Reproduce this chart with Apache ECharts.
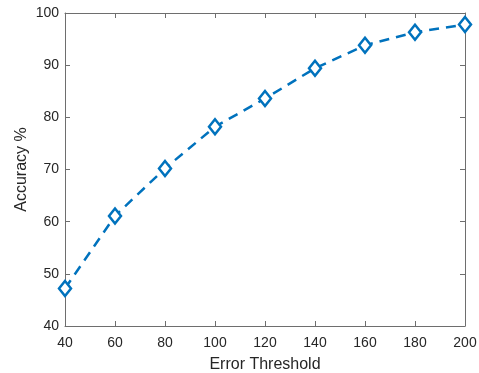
<!DOCTYPE html>
<html>
<head>
<meta charset="utf-8">
<script src="https://cdn.jsdelivr.net/npm/echarts@6/dist/echarts.min.js"></script>
<style>
  html, body { margin: 0; padding: 0; background: #fff; }
  #chart { width: 479px; height: 373px; }
</style>
</head>
<body>
<div id="chart"></div>
<script>
// values
const thresholds = [40, 60, 80, 100, 120, 140, 160, 180, 200];
const accuracy = [47.2, 61.1, 70.2, 78.2, 83.6, 89.4, 93.8, 96.3, 97.8];

const axisGrey = '#6e6e6e';
const textColor = '#262626';
const lineBlue = '#0072BD';

var chart = echarts.init(document.getElementById('chart'));

var points = thresholds.map(function (t, i) { return [t, accuracy[i]]; });

var baseAxis = {
    axisLine: { show: true, lineStyle: { color: axisGrey, width: 1 } },
    axisTick: { show: true, inside: true, length: 5, lineStyle: { color: axisGrey } },
    splitLine: { show: false },
};

var option = {
    animation: false,
    grid: { left: 65, right: 14, top: 13, bottom: 47, containLabel: false, outerBoundsMode: 'none' },
    xAxis: [
        Object.assign({}, baseAxis, {
            type: 'value', min: 40, max: 200, interval: 20,
            name: 'Error Threshold', nameLocation: 'middle', nameGap: 31, nameMoveOverlap: false,
            nameTextStyle: { color: textColor, fontSize: 16, fontFamily: 'Liberation Sans' },
            axisLabel: { color: textColor, fontSize: 14, fontFamily: 'Liberation Sans', margin: 10 },
        }),
        Object.assign({}, baseAxis, {
            type: 'value', min: 40, max: 200, interval: 20, position: 'top',
            axisLabel: { show: false },
        }),
    ],
    yAxis: [
        Object.assign({}, baseAxis, {
            type: 'value', min: 40, max: 100, interval: 10,
            name: 'Accuracy %', nameLocation: 'middle', nameGap: 35, nameMoveOverlap: false,
            nameTextStyle: { color: textColor, fontSize: 16, fontFamily: 'Liberation Sans' },
            axisLabel: { color: textColor, fontSize: 14, fontFamily: 'Liberation Sans', margin: 6 },
        }),
        Object.assign({}, baseAxis, {
            type: 'value', min: 40, max: 100, interval: 10, position: 'right',
            axisLabel: { show: false },
        }),
    ],
    series: [
        {
            type: 'line',
            data: points,
            symbol: 'diamond',
            symbolSize: [12, 15],
            showAllSymbol: true,
            lineStyle: { color: lineBlue, width: 2.5, type: [10, 7] },
            itemStyle: { color: '#ffffff', borderColor: lineBlue, borderWidth: 2.5 },
            z: 3,
        }
    ],
};

option && chart.setOption(option);
</script>
</body>
</html>
